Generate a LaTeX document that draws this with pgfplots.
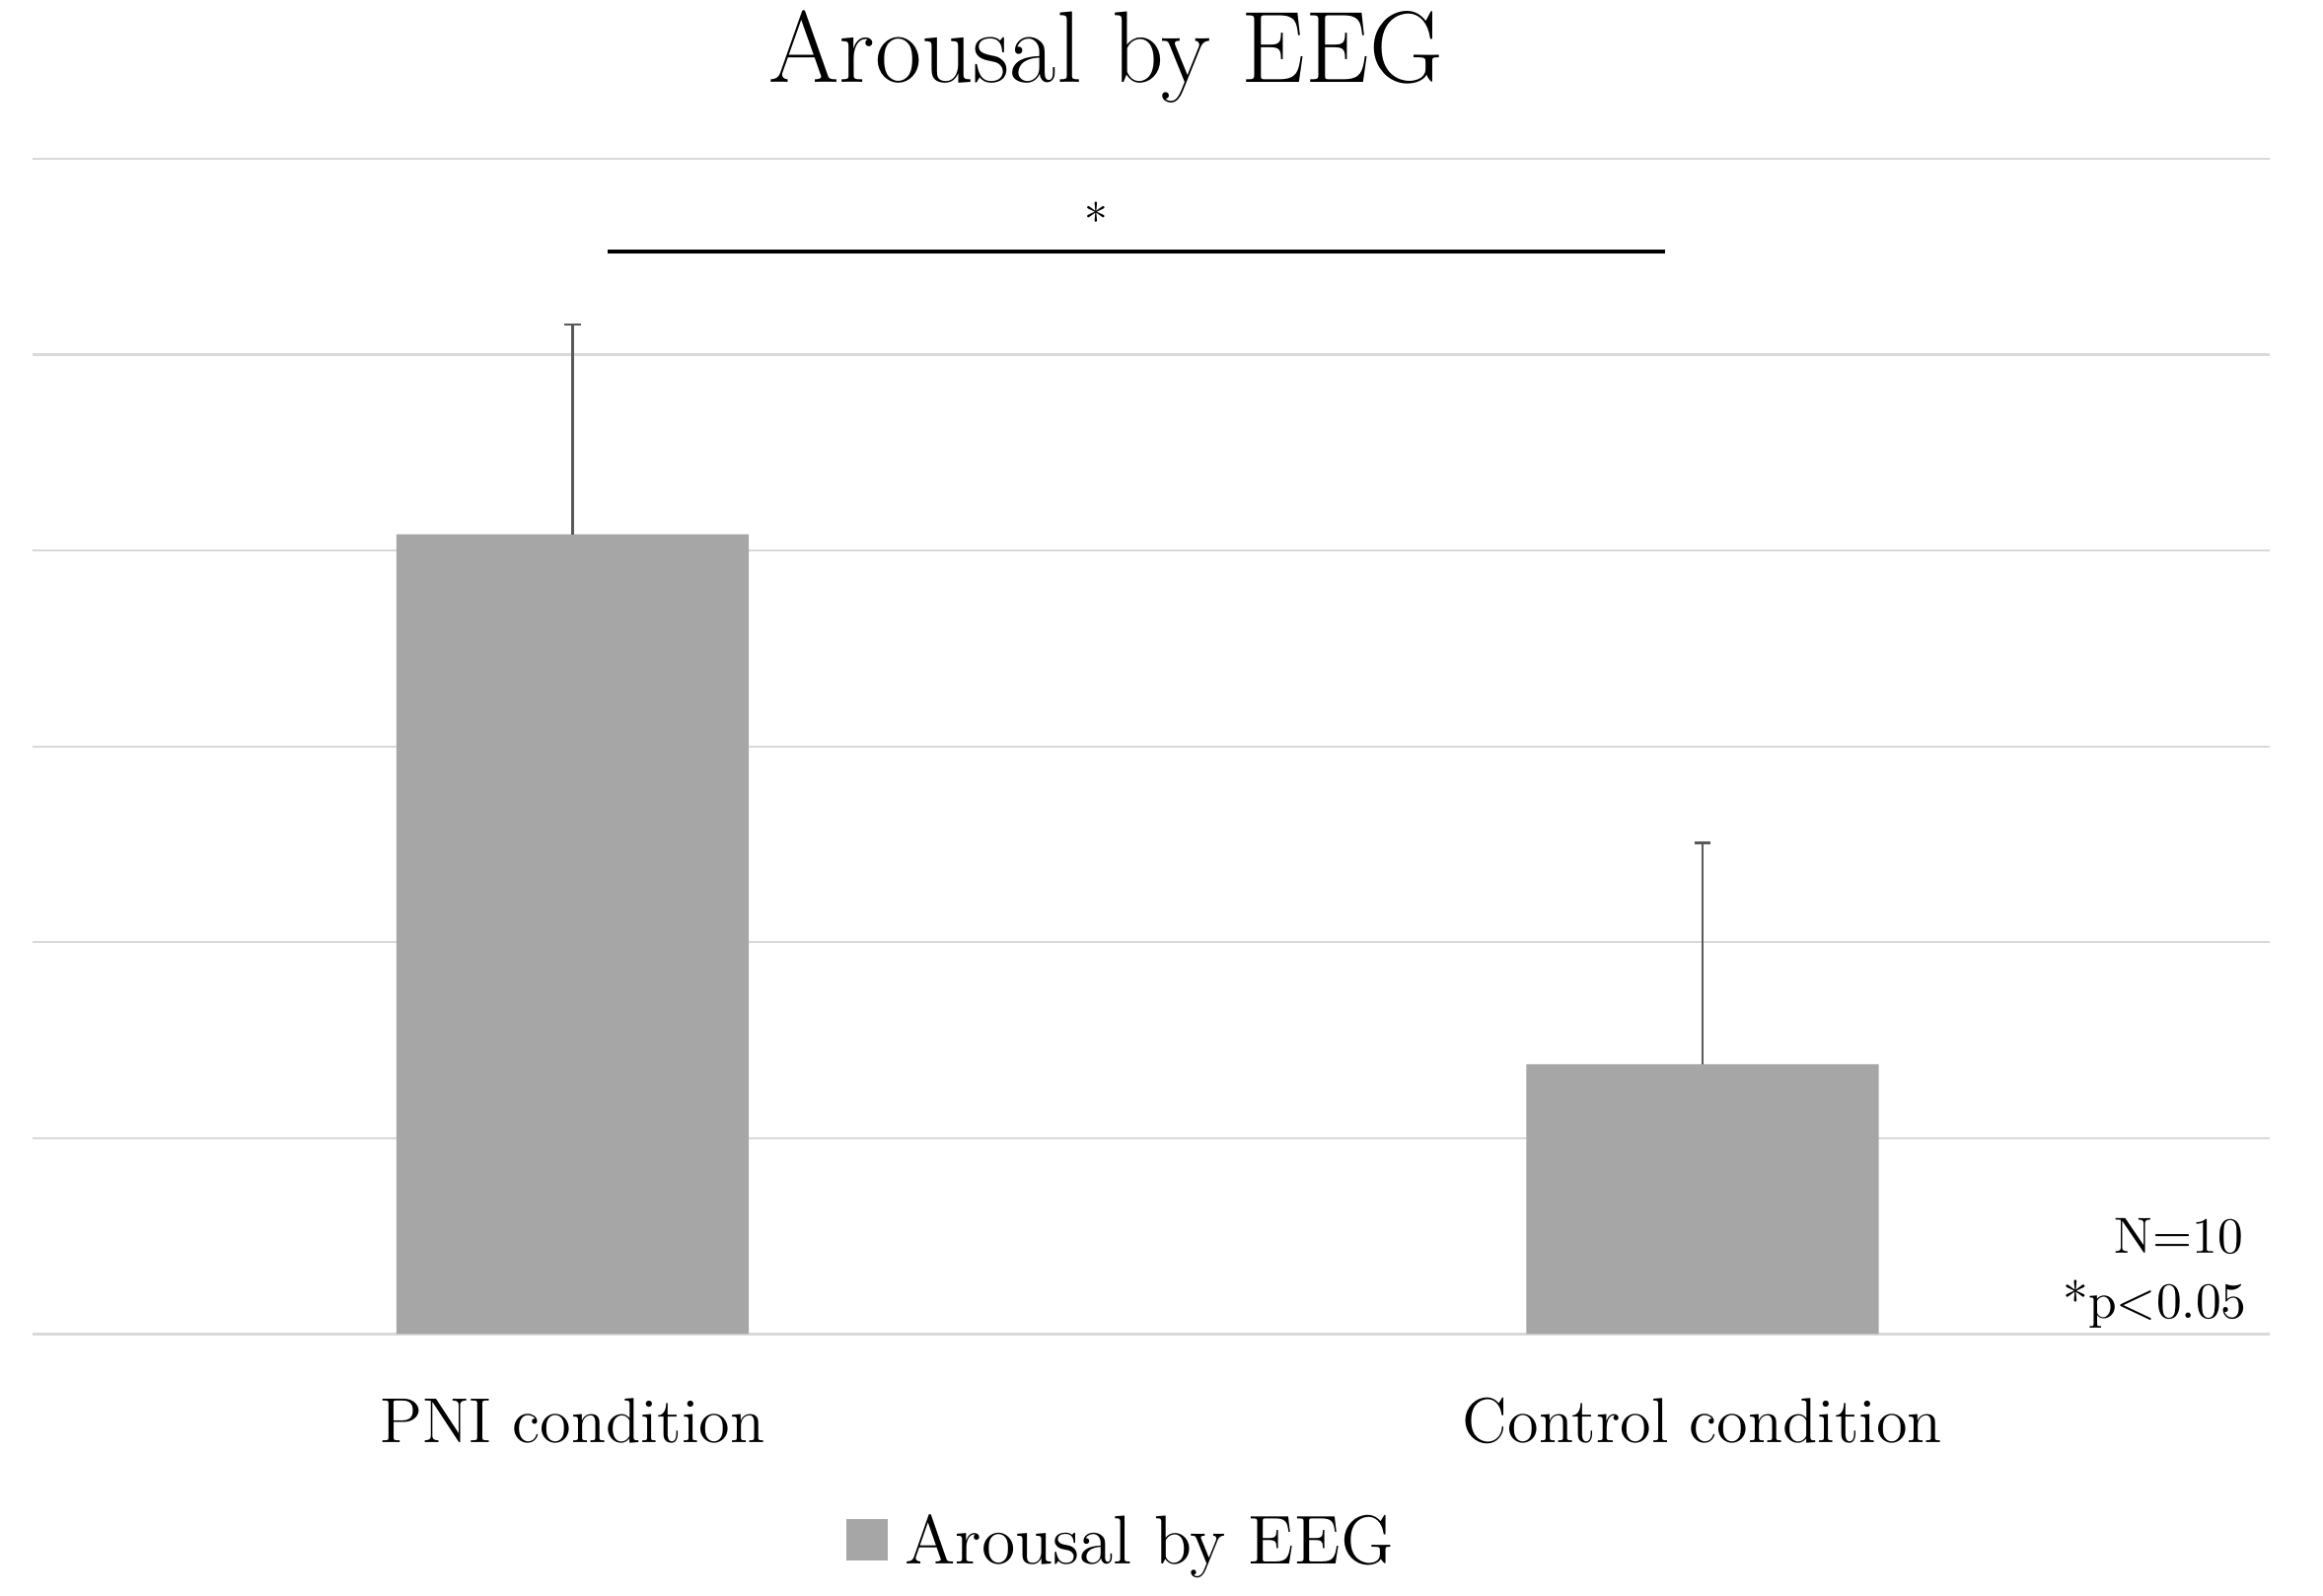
\documentclass[border=0pt]{standalone}
\usepackage{fontspec}
\usepackage{pgfplots}
\pgfplotsset{compat=1.18}
\definecolor{barc}{HTML}{A6A6A6}
\definecolor{gridc}{HTML}{D9D9D9}
\definecolor{errc}{HTML}{595959}
\begin{document}
\begin{tikzpicture}
\begin{axis}[
  name=ax,
  scale only axis, width=453.6pt, height=238.3pt,
  xmin=-0.478, xmax=1.502, ymin=0, ymax=6,
  ybar, bar width=0.312,
  axis line style={draw=none},
  tick style={draw=none},
  ytick={0,1,2,3,4,5,6}, yticklabels={},
  ymajorgrids, major grid style={gridc, line width=0.45pt},
  xtick={0,1}, xticklabels={PNI condition, Control condition},
  xticklabel style={anchor=base, yshift=-17.7pt, font=\fontsize{12.9}{15}\selectfont},
  clip=false,
  legend style={at={(0.4882,-0.178)}, anchor=center, draw=none, fill=none,
    font=\fontsize{14}{16}\selectfont},
  legend image code/.code={\fill[barc] (0pt,-3.5pt) rectangle (8.4pt,4.9pt); \path (9.9pt,0pt);},
]
\addplot[fill=barc, draw=none,
  error bars/.cd, y dir=plus, y explicit,
  error bar style={errc, line width=0.45pt},
  error mark options={rotate=90, mark size=1.65pt, errc, line width=0.45pt}]
  coordinates {(0,4.083) +- (0,1.071) (1,1.377) +- (0,1.130)};
\addlegendentry{Arousal by EEG}
\addplot[black, line width=0.87pt, forget plot, sharp plot] coordinates {(0.031,5.525) (0.967,5.525)};
\node[font=\fontsize{9.5}{10}\selectfont] at (axis cs:0.463,5.69) {*};
\node[anchor=base, font=\fontsize{20.6}{24}\selectfont] at (axis cs:0.472,6.391) {Arousal by EEG};
\node[anchor=base east, font=\fontsize{10.3}{12}\selectfont] at (axis cs:1.494,0.413) {N=10};
\node[anchor=base east, font=\fontsize{10.3}{12}\selectfont] at (axis cs:1.497,0.080) {*p<0.05};
\end{axis}
\pgfresetboundingbox
\path[use as bounding box] ([xshift=-6.6pt,yshift=-53.1pt]ax.south west) rectangle ([xshift=10.8pt,yshift=32.2pt]ax.north east);
\end{tikzpicture}
\end{document}
